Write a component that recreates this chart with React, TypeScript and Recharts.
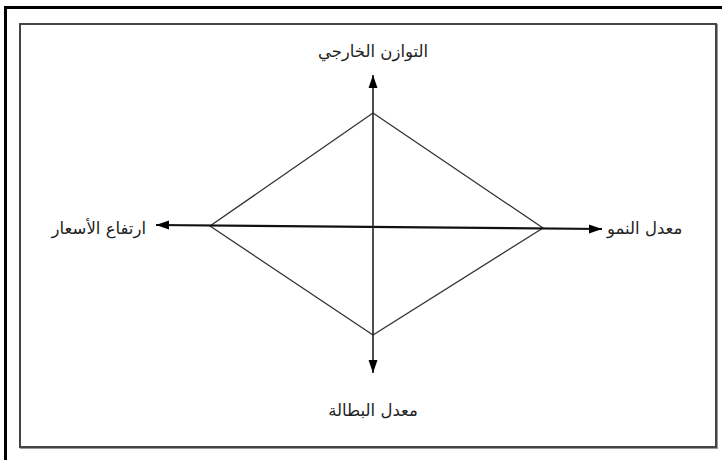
import React from 'react';
import { ComposedChart, Line, Scatter, XAxis, YAxis } from 'recharts';

// Diagram coordinates (centre of the cross = 0,0; y grows upward)
const diamondX = [0, 170, 0, -163, 0];
const diamondY = [113.5, -1.5, -108.5, 0.5, 113.5];

const horizontalAxisX = [-217, 229];
const horizontalAxisY = [1.5, -2.5];
const verticalAxisX = [0, 0];
const verticalAxisY = [151.5, -146.5];

const arrowX = [-217, 229, 0, 0];
const arrowY = [1.5, -2.5, 151.5, -146.5];
const arrowDir = ['left', 'right', 'up', 'down'];

const labelTexts = ['التوازن الخارجي', 'معدل البطالة', 'ارتفاع الأسعار', 'معدل النمو'];
const labelX = [0, 0, -227, 234];
const labelY = [175.5, -183.5, -1.5, -1.5];
const labelAnchor = ['middle', 'middle', 'end', 'start'];

const diamond = diamondX.map((x, i) => ({ x, y: diamondY[i] }));
const hAxis = horizontalAxisX.map((x, i) => ({ x, y: horizontalAxisY[i] }));
const vAxis = verticalAxisX.map((x, i) => ({ x, y: verticalAxisY[i] }));
const arrows = arrowX.map((x, i) => ({ x, y: arrowY[i], dir: arrowDir[i] }));
const labels = labelTexts.map((t, i) => ({ x: labelX[i], y: labelY[i], text: t, anchor: labelAnchor[i] }));

const ArrowHead = (props: any) => {
  const { cx, cy, payload } = props;
  const L = 13;
  const W = 4.5;
  let pts = '';
  if (payload.dir === 'left') pts = `${cx},${cy} ${cx + L},${cy - W} ${cx + L},${cy + W}`;
  if (payload.dir === 'right') pts = `${cx},${cy} ${cx - L},${cy - W} ${cx - L},${cy + W}`;
  if (payload.dir === 'up') pts = `${cx},${cy} ${cx - W},${cy + L} ${cx + W},${cy + L}`;
  if (payload.dir === 'down') pts = `${cx},${cy} ${cx - W},${cy - L} ${cx + W},${cy - L}`;
  return <polygon points={pts} fill="#000" />;
};

const LabelShape = (props: any) => {
  const { cx, cy, payload } = props;
  return (
    <text
      x={cx}
      y={cy}
      textAnchor={payload.anchor}
      dominantBaseline="central"
      fontFamily="'DejaVu Sans', sans-serif"
      fontSize={16.5}
      fill="#222"
    >
      {payload.text}
    </text>
  );
};

export default function App() {
  return (
    <div style={{ position: 'absolute', left: 0, top: 0, width: 722, height: 460, background: '#fff', overflow: 'hidden' }}>
      <div style={{ position: 'absolute', left: 4, top: 6, width: 800, height: 600, borderTop: '3px solid #000', borderLeft: '3px solid #000' }} />
      <div style={{ position: 'absolute', left: 19, top: 23, width: 694, height: 421, border: '2px solid #444', boxShadow: '1px 1px 0 #999' }} />
      <div style={{ position: 'absolute', left: 0, top: 0 }}>
        <ComposedChart width={722} height={460} margin={{ top: 0, right: 0, bottom: 0, left: 0 }}>
          <XAxis type="number" dataKey="x" domain={[-373, 349]} allowDataOverflow hide />
          <YAxis type="number" dataKey="y" domain={[-233.5, 226.5]} allowDataOverflow hide />
          <Line data={diamond} dataKey="y" type="linear" stroke="#333" strokeWidth={1.3} dot={false} isAnimationActive={false} />
          <Line data={hAxis} dataKey="y" type="linear" stroke="#111" strokeWidth={2.2} dot={false} isAnimationActive={false} />
          <Line data={vAxis} dataKey="y" type="linear" stroke="#222" strokeWidth={1.6} dot={false} isAnimationActive={false} />
          <Scatter data={arrows} shape={ArrowHead} isAnimationActive={false} />
          <Scatter data={labels} shape={LabelShape} isAnimationActive={false} />
        </ComposedChart>
      </div>
    </div>
  );
}
